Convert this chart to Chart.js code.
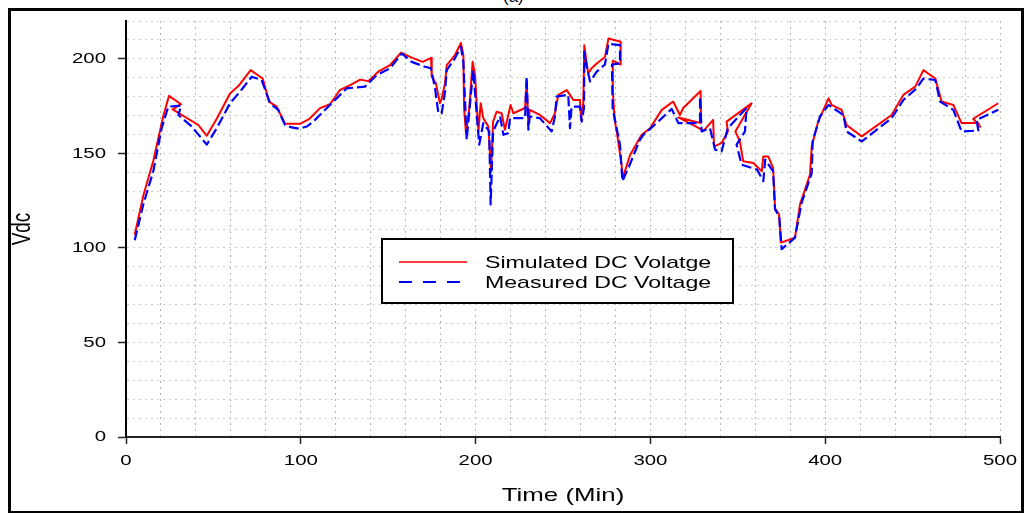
<!DOCTYPE html>
<html><head><meta charset="utf-8">
<script src="https://cdn.jsdelivr.net/npm/chart.js@4"></script>
<style>
html,body{margin:0;padding:0;background:#fff;overflow:hidden;width:1032px;height:513px;}
#frame{position:absolute;left:8px;top:8px;width:1016px;height:506px;box-sizing:border-box;border:3px solid #000;}
#cap{position:absolute;left:503px;top:-13px;font:17px "Liberation Sans",Arial,sans-serif;color:#000;}
#wrap{position:absolute;left:0;top:0;width:1032px;height:513px;}
</style></head><body>
<div id="cap">(a)</div>
<div id="frame"></div>
<div id="wrap"><canvas id="c" width="1032" height="513"></canvas></div>
<script>
// ---- data ----
const simTime = [5,10,15.6,21.4,24.6,31.5,26.7,41.4,46.2,51.9,59.5,64.3,71.3,78.2,81.8,86.2,91,99.5,105,111,116.7,122.4,128,134,138.6,144.3,151,157.3,162.5,169.7,174.5,174.9,177.3,179.6,180.6,182.5,183.5,188.2,191.6,193,193.4,194.5,196.4,198.3,199.7,200.6,201.6,202.9,204.4,207.3,208.8,210,212,214.9,216.8,220,221.6,228.3,229.2,230.2,231,236.8,242.6,245.4,247.3,252.1,254,255.9,259.7,260.3,261.6,262.2,263.2,264.4,266.4,269.3,274,276,283,283,278.5,278.5,279.5,281,283.5,284.2,288.3,295,299.8,306.5,313,316.9,318.8,328.7,329,316,330.5,335.9,336.4,340.7,344.3,343.6,357.9,348.6,351.2,353.1,358.9,363.7,364.6,367.4,370.2,371.3,373.6,374.6,382.7,385.6,391.3,392.3,396,401.9,403.7,409.4,412.2,420.9,438,444.7,451.5,456.2,463,466.6,473.3,478,487.6,488.6,484.7,499];
const simVdc = [107,128,146,170,180.4,176,173.3,165,159.3,168.3,181.7,185.6,194,189.6,177.4,174.7,165.6,165.6,168.3,173.9,176,183.5,186,189,188.2,193.2,196.6,203.3,201,198.4,200.5,190.5,187,176.5,179,187,196.7,202,208.4,202,174,160.7,174,198.4,191.4,176.5,161.6,176.5,168.6,164.2,140,166.8,172,171.2,162.5,175.6,171.2,174,188,165,173,170.3,166,171.2,180.9,183.5,180.9,178.2,178.2,167.7,176.5,207.2,200,192.3,195,197.5,201,210.7,209,197,199,183,168,160,144,137,149,159.8,163.3,173,177.4,170.3,174,183,166,169,162,167.7,153.7,155.4,161.6,166.8,176.5,161.6,156.3,145.8,144.9,140.5,148.4,148.4,142.3,121,117.7,102.8,105.4,123,138.8,153.7,166.8,179.1,175.6,173,165,159,170.3,180.9,185.3,194,189.6,177.4,175.6,166,166,164,168.3,176.5];

const measTime = [5,9.9,15.6,20.4,24.2,31.5,30,37.6,46.2,51.9,59.5,65.2,71.9,77.6,82.4,87.1,91,94.8,99.2,103.4,107.2,114.8,121.5,126.3,136.7,143.4,151,157.7,163.4,171,174.5,176.8,178.7,180.6,182.5,183.5,188,191.6,193,194.9,197.8,198.7,200.5,202.1,204.4,207.8,208.6,210,214,215.9,218.7,219.7,228.3,229.2,230.2,231,236.8,243.5,245.4,246.3,253,254,254.9,259.7,260.7,262,262.2,263.4,265.5,269.3,274,276,282.6,282.6,278,278.4,282.6,284,287.4,294,296,305.5,312.2,316,328.4,328.4,329.3,334.1,337,340.7,344.3,355,354.1,349.3,352.2,361,364.6,365.7,370.2,371.3,373.7,375.1,382.7,386.5,392.3,392.8,397,401.9,410.4,412.2,420.9,438,444.7,452.3,456.2,463,465.7,473.3,478,487.6,486.6,499];
const measVdc = [104,123,140.5,163.3,174.7,175.3,170.3,164.2,154.6,163.3,176.5,182.6,190.5,188.8,176.5,173,165,163.7,163,164.2,166.8,173.9,180,184.4,185.3,191.4,194.9,202.8,198.4,195.8,195,184.4,171.2,171.2,182.6,194,200,206.3,198.4,157.2,186,194,172,154.6,166,161.6,123,161.6,169.5,159.8,160.7,168.6,168.6,190.5,162.5,169.5,168.6,161.6,169.5,180,181,163.3,174.7,174.7,166.8,174,203.7,196.6,188,193.2,197,208,207.2,197.5,197,174,154.6,135.3,142.3,157.2,159.8,167.7,173.5,166,166,180,161.6,163.3,152,151,163.3,174,161.6,154.6,144,141.4,135.3,146.7,140.5,120.4,116.8,99.3,105.4,123.8,139.6,156.3,169.5,175.6,170.3,161.6,156.3,168.6,178.2,184.4,189.6,188.8,177.4,173,161.6,162.1,167.7,173];

const seriesLabels = ['Simulated DC Volatge', 'Measured DC Voltage'];
const xTitle = 'Time (Min)';
const yTitle = 'Vdc';

// ---- helpers ----
const FONT = '"Liberation Sans", Arial, sans-serif';
const STRETCH = 1.36; // reference text is horizontally stretched

const stretchText = {
  id: 'stretchText',
  beforeInit(chart) {
    const ctx = chart.ctx;
    const orig = ctx.fillText.bind(ctx);
    ctx.fillText = function (text, x, y, maxWidth) {
      const T = ctx.getTransform();
      const px = T.a * x + T.c * y + T.e;
      const py = T.b * x + T.d * y + T.f;
      ctx.save();
      ctx.setTransform(new DOMMatrix().translate(px, py).scale(STRETCH, 1).translate(-px, -py).multiply(T));
      if (maxWidth === undefined || maxWidth === null) orig(text, x, y); else orig(text, x, y, maxWidth);
      ctx.restore();
    };
  }
};

const legendBox = {
  id: 'legendBox',
  afterDraw(chart) {
    const ctx = chart.ctx;
    const ds = chart.data.datasets;
    const bx = 382, by = 239, bw = 351, bh = 64;
    ctx.save();
    ctx.fillStyle = '#fff';
    ctx.fillRect(bx, by, bw, bh);
    ctx.strokeStyle = '#000';
    ctx.lineWidth = 2;
    ctx.strokeRect(bx, by, bw, bh);
    const rows = [{y: 262, len: 68, dash: []}, {y: 282, len: 61, dash: [13, 11]}];
    ds.forEach((d, i) => {
      const r = rows[i];
      ctx.beginPath();
      ctx.setLineDash(r.dash);
      ctx.strokeStyle = d.borderColor;
      ctx.lineWidth = i === 0 ? 1.3 : 2;
      ctx.moveTo(399, r.y);
      ctx.lineTo(399 + r.len, r.y);
      ctx.stroke();
      ctx.setLineDash([]);
      ctx.fillStyle = '#000';
      ctx.font = '17px ' + FONT;
      ctx.textAlign = 'left';
      ctx.textBaseline = 'alphabetic';
      ctx.fillText(d.label, 485, r.y + 6);
    });
    ctx.restore();
  }
};

const toPts = (xs, ys) => xs.map((t, i) => ({x: t, y: ys[i]}));

new Chart(document.getElementById('c'), {
  type: 'scatter',
  data: {
    datasets: [
      {label: seriesLabels[0], data: toPts(simTime, simVdc), showLine: true, borderColor: '#ff0000', backgroundColor: '#ff0000', borderWidth: 2, pointRadius: 0, tension: 0, borderJoinStyle: 'round', order: 1},
      {label: seriesLabels[1], data: toPts(measTime, measVdc), showLine: true, borderColor: '#0000ff', backgroundColor: '#0000ff', borderWidth: 2.2, borderDash: [10, 4], pointRadius: 0, tension: 0, borderJoinStyle: 'round', order: 0}
    ]
  },
  options: {
    responsive: false,
    animation: false,
    devicePixelRatio: 1,
    layout: {padding: {left: 11, right: 32, top: 19, bottom: 6}},
    plugins: {legend: {display: false}, tooltip: {enabled: false}},
    scales: {
      x: {
        type: 'linear', min: 0, max: 500,
        afterFit(s) { s.height = 70; },
        ticks: {stepSize: 20, autoSkip: false, maxRotation: 0, padding: 8, color: '#000',
          font: {family: FONT, size: 15},
          callback: v => (v % 100 === 0 ? v : '')},
        grid: {color: '#b4b4b4', lineWidth: 1, tickLength: 7, tickWidth: 1.5,
          tickColor: c => (c.tick && c.tick.value % 100 === 0) ? '#222' : 'rgba(0,0,0,0)'},
        border: {display: true, color: '#222', width: 2, dash: [2, 4]},
        title: {display: true, text: xTitle, color: '#000', font: {family: FONT, size: 19}, padding: {top: 0, bottom: 0}}
      },
      y: {
        type: 'linear', min: 0, max: 220,
        afterFit(s) { s.width = 115; },
        ticks: {stepSize: 10, autoSkip: false, padding: 12, color: '#000',
          font: {family: FONT, size: 15},
          callback: v => (v % 50 === 0 ? v : '')},
        grid: {color: '#c2d2ca', lineWidth: 1, tickLength: 8, tickWidth: 1.5,
          tickColor: c => (c.tick && c.tick.value % 50 === 0) ? '#222' : 'rgba(0,0,0,0)'},
        border: {display: true, color: '#000', width: 2, dash: [2, 4]},
        title: {display: true, text: yTitle, color: '#000', font: {family: FONT, size: 19}, padding: {top: 0, bottom: 0}}
      }
    }
  },
  plugins: [stretchText, legendBox]
});
</script>
</body></html>
